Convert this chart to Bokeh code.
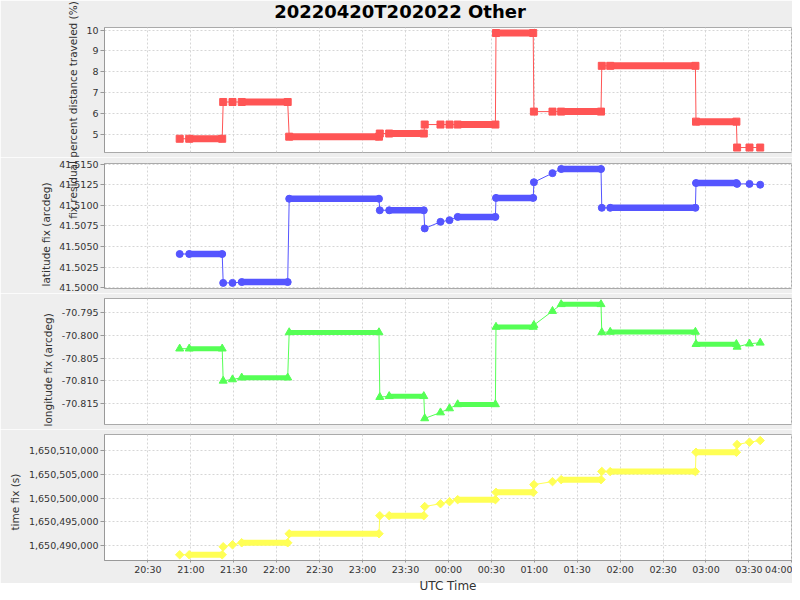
import numpy as np
import pandas as pd
from bokeh.plotting import figure
from bokeh.layouts import column
from bokeh.models import (Range1d, FixedTicker, NumeralTickFormatter,
                          DatetimeTickFormatter, Div, Title)
from bokeh.embed import file_html
from bokeh.resources import INLINE

title_text = "20220420T202022 Other"
x_label = "UTC Time"
pct_label = "fix residual percent distance traveled (%)"
lat_label = "latitude fix (arcdeg)"
lon_label = "longitude fix (arcdeg)"
tfix_label = "time fix (s)"

# each run: first and last fix time (a single fix has start == end)
run_start = ["2022-04-20 20:52:13", "2022-04-20 20:58:52", "2022-04-20 21:22:37", "2022-04-20 21:29:07",
             "2022-04-20 21:35:33", "2022-04-20 22:08:44", "2022-04-20 23:12:03", "2022-04-20 23:18:37",
             "2022-04-20 23:43:26", "2022-04-20 23:54:28", "2022-04-21 00:00:46", "2022-04-21 00:06:29",
             "2022-04-21 00:33:15", "2022-04-21 00:59:44", "2022-04-21 01:12:44", "2022-04-21 01:18:49",
             "2022-04-21 01:47:11", "2022-04-21 01:53:04", "2022-04-21 02:53:01", "2022-04-21 03:21:44",
             "2022-04-21 03:30:24", "2022-04-21 03:37:53"]
run_end = ["2022-04-20 20:52:13", "2022-04-20 21:21:55", "2022-04-20 21:22:37", "2022-04-20 21:29:07",
           "2022-04-20 22:07:41", "2022-04-20 23:11:29", "2022-04-20 23:12:03", "2022-04-20 23:42:48",
           "2022-04-20 23:43:26", "2022-04-20 23:54:28", "2022-04-21 00:00:46", "2022-04-21 00:32:50",
           "2022-04-21 00:59:15", "2022-04-21 00:59:44", "2022-04-21 01:12:44", "2022-04-21 01:46:38",
           "2022-04-21 01:47:11", "2022-04-21 02:52:36", "2022-04-21 03:21:15", "2022-04-21 03:21:44",
           "2022-04-21 03:30:24", "2022-04-21 03:37:53"]

pct_values = [4.80, 4.80, 6.56, 6.56, 6.56, 4.90, 5.05, 5.05, 5.48, 5.48, 5.48,
              5.48, 9.86, 6.10, 6.10, 6.10, 8.29, 8.29, 5.62, 4.38, 4.38, 4.38]
lat_values = [41.5041, 41.5041, 41.5006, 41.5006, 41.5007, 41.5108, 41.5094, 41.5094,
              41.5072, 41.5080, 41.5082, 41.5086, 41.5109, 41.5128, 41.5139, 41.5144,
              41.5097, 41.5097, 41.5127, 41.5126, 41.5126, 41.5125]
lon_values = [-70.8029, -70.8029, -70.8100, -70.8097, -70.8093, -70.7993, -70.8136, -70.8134,
              -70.8183, -70.8170, -70.8161, -70.8152, -70.7981, -70.7977, -70.7946, -70.7931,
              -70.7993, -70.7992, -70.8019, -70.8025, -70.8018, -70.8016]
tfix_values = [1650488040, 1650488040, 1650489725, 1650490150, 1650490570, 1650492470,
               1650496270, 1650496270, 1650498200, 1650498800, 1650499230, 1650499650,
               1650501190, 1650502820, 1650503450, 1650503870, 1650505600, 1650505560,
               1650509640, 1650511270, 1650511760, 1650512110]

x_tick_times = ["2022-04-20 20:30", "2022-04-20 21:00", "2022-04-20 21:30", "2022-04-20 22:00",
                "2022-04-20 22:30", "2022-04-20 23:00", "2022-04-20 23:30", "2022-04-21 00:00",
                "2022-04-21 00:30", "2022-04-21 01:00", "2022-04-21 01:30", "2022-04-21 02:00",
                "2022-04-21 02:30", "2022-04-21 03:00", "2022-04-21 03:30", "2022-04-21 04:00"]
pct_ticks = [5, 6, 7, 8, 9, 10]
lat_ticks = [41.5000, 41.5025, 41.5050, 41.5075, 41.5100, 41.5125, 41.5150]
lon_ticks = [-70.815, -70.810, -70.805, -70.800, -70.795]
tfix_ticks = [1650490000, 1650495000, 1650500000, 1650505000, 1650510000]

starts = pd.to_datetime(run_start)
ends = pd.to_datetime(run_end)
x_tick_ms = [pd.Timestamp(t).value / 1e6 for t in x_tick_times]
x_range = Range1d(pd.Timestamp("2022-04-20 19:59:40"), pd.Timestamp("2022-04-21 04:00:27"))

FONT = "DejaVu Sans"
W = 792
H1, H2, H3, H4 = 157, 136, 136, 154


def make_panel(values, y_start, y_end, yticks, yfmt, ylabel, label_offset, color, marker,
               msize, bar_width, height, top, bottom, angle=0.0, cap="butt", xaxis=False):
    p = figure(width=W, height=height, x_axis_type="datetime", x_range=x_range,
               y_range=Range1d(y_start, y_end), output_backend="svg",
               toolbar_location=None, min_border_left=104, min_border_right=0,
               min_border_top=top, min_border_bottom=bottom)
    p.background_fill_color = "white"
    p.border_fill_color = "#EEEEEE"
    p.outline_line_color = "#AAAAAA"

    xs, ys, bx0, bx1, by = [], [], [], [], []
    for s, e, v in zip(starts, ends, values):
        xs.append(s)
        ys.append(v)
        if e != s:
            xs.append(e)
            ys.append(v)
            bx0.append(s)
            bx1.append(e)
            by.append(v)
    p.line(xs, ys, line_color=color, line_width=1)
    p.segment(x0=bx0, y0=by, x1=bx1, y1=by, line_color=color, line_width=bar_width,
              line_cap=cap)
    p.scatter(xs, ys, marker=marker, size=msize, angle=angle, fill_color=color,
              line_color=color)

    p.xaxis.ticker = FixedTicker(ticks=x_tick_ms)
    p.xgrid.ticker = FixedTicker(ticks=x_tick_ms)
    p.yaxis.ticker = FixedTicker(ticks=yticks)
    p.yaxis.formatter = NumeralTickFormatter(format=yfmt)
    for g in (p.xgrid, p.ygrid):
        g.grid_line_color = "#D6D6D6"
        g.grid_line_dash = "2 2"
        g.grid_line_width = 1

    ax = p.yaxis[0]
    ax.axis_line_color = "#999999"
    ax.major_tick_line_color = "#999999"
    ax.major_tick_in = 0
    ax.major_tick_out = 4
    ax.minor_tick_line_color = None
    ax.major_label_text_font = FONT
    ax.major_label_text_font_size = "9.5px"
    ax.major_label_text_color = "#333333"
    ax.major_label_standoff = 2
    if ylabel:
        p.add_layout(Title(text=ylabel, align="left", offset=label_offset,
                           vertical_align="middle", standoff=7, text_font=FONT,
                           text_font_size="10.5px", text_font_style="normal",
                           text_color="#333333"), "left")

    xa = p.xaxis[0]
    if xaxis:
        xa.formatter = DatetimeTickFormatter(hours="%H:%M", hourmin="%H:%M", minutes="%H:%M",
                                             minsec="%H:%M", days="%H:%M")
        xa.axis_line_color = "#999999"
        xa.major_tick_line_color = "#999999"
        xa.major_tick_in = 0
        xa.major_tick_out = 2
        xa.minor_tick_line_color = None
        xa.major_label_text_font = FONT
        xa.major_label_text_font_size = "9.5px"
        xa.major_label_text_color = "#333333"
        xa.major_label_standoff = 1
    else:
        xa.visible = False
    return p


p1 = make_panel(pct_values, 4.143, 10.124, pct_ticks, "0", None, 0, "#FF5555", "square", 7, 7,
                H1, 27, 5)
p2 = make_panel(lat_values, 41.49992, 41.51507, lat_ticks, "0.0000", lat_label, 2, "#5555FF",
                "circle", 7, 6.5, H2, 6, 5, cap="round")
p3 = make_panel(lon_values, -70.81964, -70.79182, lon_ticks, "0.000", lon_label, -2, "#55FF55",
                "triangle", 8, 5, H3, 5, 5)
p4 = make_panel(tfix_values, 1650486832, 1650513379, tfix_ticks, "0,0", tfix_label, 30,
                "#FFFF55", "square", 6, 6, H4, 5, 23, angle=np.pi / 4, xaxis=True)

# The chart title, the top panel's long axis title (which runs down past its own
# panel) and the domain axis title (low in the bottom margin) are laid over the stack.
base = H1 + H2 + H3 + H4 + 12
label_html = (
    '<div style="position:relative;width:0;height:0;">'
    '<div style="position:absolute;left:200px;top:%.1fpx;width:400px;height:22px;'
    'line-height:22px;text-align:center;white-space:nowrap;'
    "font-family:'DejaVu Sans';font-size:18px;font-weight:bold;color:#000000;\">%s</div>"
    '<div style="position:absolute;left:-77.5px;top:%.1fpx;width:300px;height:14px;'
    'line-height:14px;text-align:center;white-space:nowrap;transform:rotate(-90deg);'
    "font-family:'DejaVu Sans';font-size:10.5px;color:#333333;\">%s</div>"
    '<div style="position:absolute;left:348px;top:%.1fpx;width:200px;height:12px;'
    'line-height:12px;text-align:center;white-space:nowrap;'
    "font-family:'DejaVu Sans';font-size:12px;color:#333333;\">%s</div>"
    '</div>'
    % (0.8 - base, title_text, 109.5 - 7 - base, pct_label, 579.5 - base, x_label)
)
overlay = Div(text=label_html, width=1, height=1, margin=0,
              styles={"overflow": "visible", "z-index": "10", "position": "relative"})

layout = column(p1, p2, p3, p4, overlay)
open("out.html", "w").write(file_html(layout, INLINE))
